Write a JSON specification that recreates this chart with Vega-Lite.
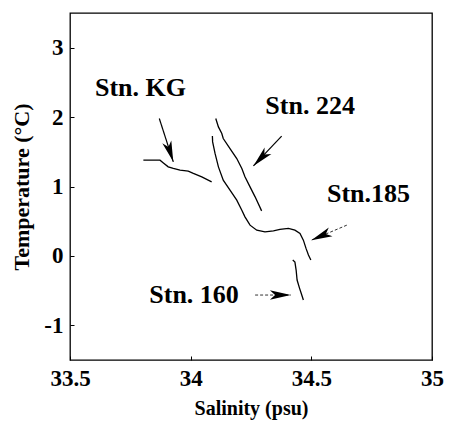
{
  "$schema": "https://vega.github.io/schema/vega-lite/v6.json",
  "width": 362,
  "height": 347,
  "autosize": "none",
  "padding": {"left": 70, "top": 13, "right": 17, "bottom": 63},
  "background": "white",
  "config": {
    "view": {"stroke": "black", "strokeWidth": 1.3},
    "font": "Liberation Serif",
    "axis": {
      "domain": false,
      "grid": false,
      "labelColor": "black",
      "titleColor": "black",
      "tickColor": "black",
      "tickWidth": 1
    }
  },
  "datasets": {
    "profiles": [
      {"station": "KG", "i": 1, "S": 33.804, "T": 1.379},
      {"station": "KG", "i": 2, "S": 33.873, "T": 1.379},
      {"station": "KG", "i": 3, "S": 33.887, "T": 1.340},
      {"station": "KG", "i": 4, "S": 33.907, "T": 1.283},
      {"station": "KG", "i": 5, "S": 33.928, "T": 1.260},
      {"station": "KG", "i": 6, "S": 33.956, "T": 1.235},
      {"station": "KG", "i": 7, "S": 33.990, "T": 1.221},
      {"station": "KG", "i": 8, "S": 34.011, "T": 1.188},
      {"station": "KG", "i": 9, "S": 34.046, "T": 1.139},
      {"station": "KG", "i": 10, "S": 34.087, "T": 1.067},
      {"station": "224", "i": 1, "S": 34.104, "T": 1.980},
      {"station": "224", "i": 2, "S": 34.115, "T": 1.859},
      {"station": "224", "i": 3, "S": 34.129, "T": 1.763},
      {"station": "224", "i": 4, "S": 34.135, "T": 1.691},
      {"station": "224", "i": 5, "S": 34.163, "T": 1.547},
      {"station": "224", "i": 6, "S": 34.191, "T": 1.403},
      {"station": "224", "i": 7, "S": 34.212, "T": 1.259},
      {"station": "224", "i": 8, "S": 34.225, "T": 1.139},
      {"station": "224", "i": 9, "S": 34.246, "T": 0.995},
      {"station": "224", "i": 10, "S": 34.267, "T": 0.851},
      {"station": "224", "i": 11, "S": 34.294, "T": 0.649},
      {"station": "185", "i": 1, "S": 34.090, "T": 1.729},
      {"station": "185", "i": 2, "S": 34.091, "T": 1.643},
      {"station": "185", "i": 3, "S": 34.101, "T": 1.476},
      {"station": "185", "i": 4, "S": 34.115, "T": 1.283},
      {"station": "185", "i": 5, "S": 34.135, "T": 1.091},
      {"station": "185", "i": 6, "S": 34.163, "T": 0.947},
      {"station": "185", "i": 7, "S": 34.191, "T": 0.803},
      {"station": "185", "i": 8, "S": 34.212, "T": 0.659},
      {"station": "185", "i": 9, "S": 34.225, "T": 0.563},
      {"station": "185", "i": 10, "S": 34.246, "T": 0.443},
      {"station": "185", "i": 11, "S": 34.274, "T": 0.371},
      {"station": "185", "i": 12, "S": 34.308, "T": 0.347},
      {"station": "185", "i": 13, "S": 34.343, "T": 0.361},
      {"station": "185", "i": 14, "S": 34.370, "T": 0.382},
      {"station": "185", "i": 15, "S": 34.405, "T": 0.396},
      {"station": "185", "i": 16, "S": 34.432, "T": 0.371},
      {"station": "185", "i": 17, "S": 34.453, "T": 0.324},
      {"station": "185", "i": 18, "S": 34.467, "T": 0.227},
      {"station": "185", "i": 19, "S": 34.478, "T": 0.108},
      {"station": "185", "i": 20, "S": 34.488, "T": 0.012},
      {"station": "185", "i": 21, "S": 34.498, "T": -0.060},
      {"station": "160", "i": 1, "S": 34.423, "T": -0.060},
      {"station": "160", "i": 2, "S": 34.432, "T": -0.089},
      {"station": "160", "i": 3, "S": 34.437, "T": -0.204},
      {"station": "160", "i": 4, "S": 34.441, "T": -0.348},
      {"station": "160", "i": 5, "S": 34.451, "T": -0.464},
      {"station": "160", "i": 6, "S": 34.459, "T": -0.550},
      {"station": "160", "i": 7, "S": 34.467, "T": -0.636}
    ],
    "arrows": [
      {"station": "KG", "S0": 33.870, "T0": 1.979, "S1": 33.928, "T1": 1.355, "angle": 162},
      {"station": "224", "S0": 34.377, "T0": 1.725, "S1": 34.260, "T1": 1.297, "angle": 224},
      {"station": "185", "S0": 34.647, "T0": 0.443, "S1": 34.500, "T1": 0.227, "angle": 247},
      {"station": "160", "S0": 34.267, "T0": -0.564, "S1": 34.415, "T1": -0.564, "angle": 90}
    ],
    "labels": [
      {"label": "Stn. KG", "S": 33.792, "T": 2.413},
      {"label": "Stn. 224", "S": 34.495, "T": 2.154},
      {"label": "Stn.185", "S": 34.737, "T": 0.886},
      {"label": "Stn. 160", "S": 34.014, "T": -0.569}
    ]
  },
  "layer": [
    {
      "data": {"name": "profiles"},
      "mark": {"type": "line", "color": "black", "strokeWidth": 1.3, "interpolate": "linear"},
      "encoding": {
        "x": {
          "field": "S", "type": "quantitative",
          "scale": {"domain": [33.5, 35], "nice": false, "zero": false},
          "axis": {"values": [33.5, 34, 34.5, 35], "title": "Salinity (psu)", "tickSize": -4, "labelPadding": 11, "titlePadding": 8, "labelExpr": "'' + datum.value", "labelFlush": false, "labelFontWeight": "bold", "labelFont": "Liberation Serif", "labelFontSize": 23, "titleFont": "Liberation Serif", "titleFontWeight": "bold", "titleFontSize": 20,
            "encode": {"labels": {"update": {"fontWeight": {"value": "bold"}, "font": {"value": "Liberation Serif"}}}}}
        },
        "y": {
          "field": "T", "type": "quantitative",
          "scale": {"domain": [-1.5, 3.5], "nice": false, "zero": false},
          "axis": {"values": [-1, 0, 1, 2, 3], "title": "Temperature (°C)", "tickSize": -4, "labelPadding": 11, "titlePadding": 10, "labelExpr": "'' + datum.value", "labelFontWeight": "bold", "labelFont": "Liberation Serif", "labelFontSize": 23, "titleFont": "Liberation Serif", "titleFontWeight": "bold", "titleFontSize": 22,
            "encode": {"labels": {"update": {"fontWeight": {"value": "bold"}, "font": {"value": "Liberation Serif"}}}}}
        },
        "detail": {"field": "station"},
        "order": {"field": "i"}
      }
    },
    {
      "data": {"name": "arrows"},
      "transform": [{"filter": {"field": "station", "oneOf": ["KG", "224"]}}],
      "mark": {"type": "rule", "color": "black", "strokeWidth": 1.2},
      "encoding": {
        "x": {"field": "S0", "type": "quantitative"},
        "y": {"field": "T0", "type": "quantitative"},
        "x2": {"field": "S1"},
        "y2": {"field": "T1"}
      }
    },
    {
      "data": {"name": "arrows"},
      "transform": [{"filter": {"field": "station", "oneOf": ["185", "160"]}}],
      "mark": {"type": "rule", "color": "#333", "strokeWidth": 1, "strokeDash": [3, 2]},
      "encoding": {
        "x": {"field": "S0", "type": "quantitative"},
        "y": {"field": "T0", "type": "quantitative"},
        "x2": {"field": "S1"},
        "y2": {"field": "T1"}
      }
    },
    {
      "data": {"name": "arrows"},
      "mark": {"type": "point", "shape": "M0,0 L0.45,2 L0,1.5 L-0.45,2 Z", "filled": true, "color": "black", "size": 440, "opacity": 1},
      "encoding": {
        "x": {"field": "S1", "type": "quantitative"},
        "y": {"field": "T1", "type": "quantitative"},
        "angle": {"field": "angle", "type": "quantitative", "scale": null}
      }
    },
    {
      "data": {"name": "labels"},
      "mark": {"type": "text", "font": "Liberation Serif", "fontWeight": "bold", "fontSize": 26, "align": "center", "baseline": "middle", "color": "black"},
      "encoding": {
        "x": {"field": "S", "type": "quantitative"},
        "y": {"field": "T", "type": "quantitative"},
        "text": {"field": "label"}
      }
    }
  ]
}
